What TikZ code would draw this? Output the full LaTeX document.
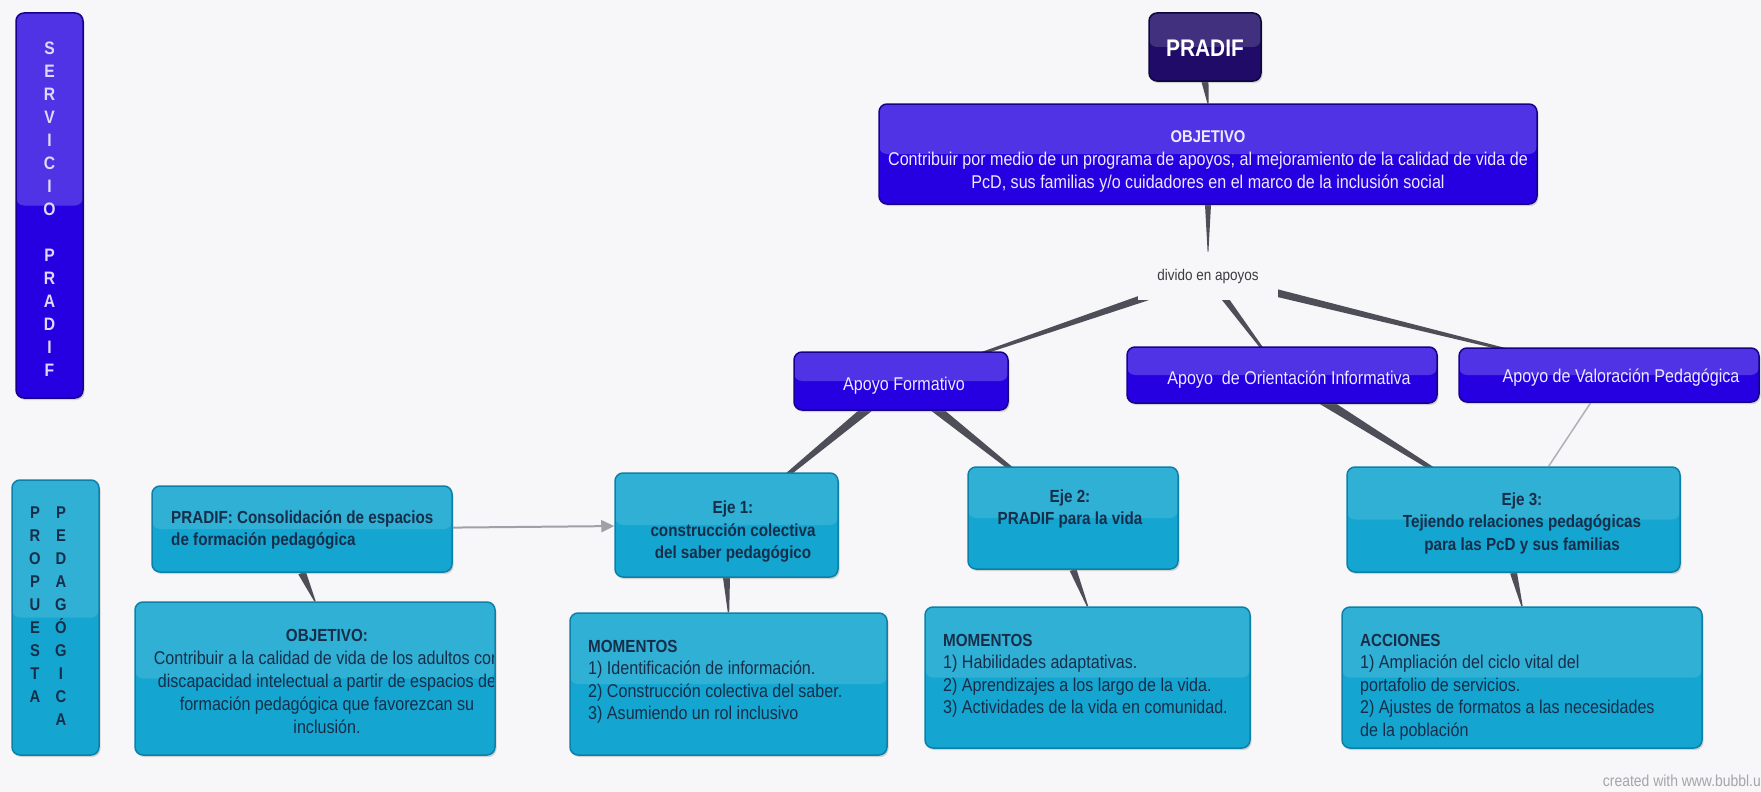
\documentclass[tikz,border=0pt]{standalone}
\usepackage{fontspec}
\setmainfont{Liberation Sans}[FakeStretch=0.87]
\usetikzlibrary{calc,shadows,arrows.meta,backgrounds}
\definecolor{bgc}{RGB}{247,247,249}
\definecolor{bluebase}{RGB}{38,0,224}
\definecolor{blueedge}{RGB}{24,0,140}
\definecolor{bluetext}{RGB}{236,234,255}
\definecolor{svcletter}{RGB}{222,218,255}
\definecolor{navybase}{RGB}{32,12,104}
\definecolor{navyedge}{RGB}{14,5,60}
\definecolor{cyanbase}{RGB}{20,166,208}
\definecolor{cyanedge}{RGB}{12,128,168}
\definecolor{cyantext}{RGB}{22,46,74}
\definecolor{connc}{RGB}{78,78,88}
\definecolor{thinc}{RGB}{176,176,182}
\definecolor{arrc}{RGB}{160,160,168}
\definecolor{creditc}{RGB}{165,165,170}
\definecolor{dividoc}{RGB}{60,60,64}
\newcommand\tconn[4]{%
  \fill[conn] ($(#1)!#3!90:(#2)$) -- ($(#1)!#3!-90:(#2)$) --
    ($(#2)!#4!90:(#1)$) -- ($(#2)!#4!-90:(#1)$) -- cycle;}
\tikzset{
  box/.style={rounded corners=8pt, line width=1.5pt, inner sep=0pt,
    drop shadow={shadow xshift=1.5pt, shadow yshift=-2pt, opacity=0.3}},
  gloss/.style={path picture={\fill[white,opacity=#1] (path picture bounding box.north west)
      rectangle (path picture bounding box.east);}},
  bluebox/.style={box, fill=bluebase, draw=blueedge, gloss=0.2},
  navybox/.style={box, fill=navybase, draw=navyedge, gloss=0.15},
  cyanbox/.style={box, fill=cyanbase, draw=cyanedge, gloss=0.12},
  wt/.style={inner sep=0pt, align=center, text=bluetext, font=\fontsize{18.5pt}{23pt}\selectfont},
  ct/.style={inner sep=0pt, text=cyantext, font=\fontsize{18.5pt}{22.5pt}\selectfont},
  cth/.style={inner sep=0pt, align=center, text=cyantext, font=\bfseries\fontsize{17.5pt}{22.5pt}\selectfont},
  conn/.style={fill=connc},
  thinconn/.style={draw=thinc, line width=1.5pt},
  arrowconn/.style={draw=arrc, line width=2pt, -{Triangle[length=13pt,width=12pt]}},
  letters/.style={inner sep=0pt, align=center, font=\bfseries\fontsize{18pt}{23pt}\selectfont},
}
\begin{document}
\begin{tikzpicture}[x=1pt,y=-1pt]
\useasboundingbox (0,0) rectangle (1761,792);

% side bars
\node[bluebox, minimum width=67pt, minimum height=385pt] (svc) at (49.5,205.5) {};
\node[letters, text=svcletter] (svct) at (49.5,209)
  {S\\E\\R\\V\\I\\C\\I\\O\\[23pt]P\\R\\A\\D\\I\\F};
\node[cyanbox, minimum width=87pt, minimum height=275pt] (prop) at (55.5,617.5) {};
\node[letters, text=cyantext, font=\bfseries\fontsize{17pt}{23pt}\selectfont] (propl) at (35,605)
  {P\\R\\O\\P\\U\\E\\S\\T\\A};
\node[letters, text=cyantext, font=\bfseries\fontsize{17pt}{23pt}\selectfont] (propr) at (61,616.5)
  {P\\E\\D\\A\\G\\Ó\\G\\I\\C\\A};

% top
\node[navybox, minimum width=112pt, minimum height=68pt] (pradif) at (1205,47) {};
\node[inner sep=0pt, text=white, font=\bfseries\fontsize{24pt}{28pt}\selectfont] (pradift) at (1205,48) {PRADIF};
\node[bluebox, minimum width=658pt, minimum height=100pt] (objt) at (1208,154) {};
\node[wt] (objtt) at (1208,161)
  {{\bfseries\fontsize{17pt}{23pt}\selectfont OBJETIVO}\\
   Contribuir por medio de un programa de apoyos, al mejoramiento de la calidad de vida de\\
   PcD, sus familias y/o cuidadores en el marco de la inclusión social};
\node[fill=bgc, minimum width=140pt, minimum height=48pt, inner sep=0pt, text=dividoc,
  font=\fontsize{15.5pt}{18pt}\selectfont] (divido) at (1208,276) {divido en apoyos};

% apoyos
\node[bluebox, minimum width=214pt, minimum height=58pt] (apf) at (901,381) {};
\node[wt] (apft) at (904,386) {Apoyo Formativo};
\node[bluebox, minimum width=310pt, minimum height=56pt] (apo) at (1282,375) {};
\node[wt] (apot) at (1289,380) {Apoyo\ \ de Orientación Informativa};
\node[bluebox, minimum width=300pt, minimum height=54pt] (apv) at (1609,375) {};
\node[wt] (apvt) at (1621,378) {Apoyo de Valoración Pedagógica};

% second row
\node[cyanbox, minimum width=300pt, minimum height=86pt] (cons) at (302,529) {};
\node[cth, align=left, anchor=west] (const) at (171,530)
  {PRADIF: Consolidación de espacios\\de formación pedagógica};
\node[cyanbox, minimum width=223pt, minimum height=104pt] (eje1) at (726.5,525) {};
\node[cth] (eje1t) at (733,532) {Eje 1:\\construcción colectiva\\del saber pedagógico};
\node[cyanbox, minimum width=210pt, minimum height=102pt] (eje2) at (1073,518) {};
\node[cth] (eje2t) at (1070,509) {Eje 2:\\PRADIF para la vida};
\node[cyanbox, minimum width=333pt, minimum height=105pt] (eje3) at (1513.5,519.5) {};
\node[cth] (eje3t) at (1522,523) {Eje 3:\\Tejiendo relaciones pedagógicas\\para las PcD y sus familias};

% third row
\node[cyanbox, minimum width=360pt, minimum height=153pt] (objp) at (315,678.5) {};
\begin{scope}
  \clip ([xshift=2pt,yshift=-2pt]objp.north west) rectangle ([xshift=-2pt,yshift=2pt]objp.south east);
  \node[ct, align=center, font=\fontsize{18.5pt}{23pt}\selectfont] (objpt) at (327,681)
    {{\bfseries\fontsize{17.5pt}{23pt}\selectfont OBJETIVO:}\\
     Contribuir a la calidad de vida de los adultos con\\
     discapacidad intelectual a partir de espacios de\\
     formación pedagógica que favorezcan su\\
     inclusión.};
\end{scope}
\node[cyanbox, minimum width=317pt, minimum height=142pt] (mom1) at (728.5,684) {};
\node[ct, align=left, anchor=west] (mom1t) at (588,682)
  {{\bfseries\fontsize{17.5pt}{22.5pt}\selectfont MOMENTOS}\\
   1) Identificación de información.\\
   2) Construcción colectiva del saber.\\
   3) Asumiendo un rol inclusivo};
\node[cyanbox, minimum width=325pt, minimum height=141pt] (mom2) at (1087.5,677.5) {};
\node[ct, align=left, anchor=west] (mom2t) at (943,676)
  {{\bfseries\fontsize{17.5pt}{22.5pt}\selectfont MOMENTOS}\\
   1) Habilidades adaptativas.\\
   2) Aprendizajes a los largo de la vida.\\
   3) Actividades de la vida en comunidad.};
\node[cyanbox, minimum width=360pt, minimum height=141pt] (acc) at (1522,677.5) {};
\node[ct, align=left, anchor=west] (acct) at (1360,687)
  {{\bfseries\fontsize{17.5pt}{22.5pt}\selectfont ACCIONES}\\
   1) Ampliación del ciclo vital del\\
   portafolio de servicios.\\
   2) Ajustes de formatos a las necesidades\\
   de la población};

\node[anchor=east, inner sep=0pt, text=creditc, font=\fontsize{16pt}{18pt}\selectfont] (credit) at (1761,781)
  {created with www.bubbl.u};

% arrow
\draw[arrowconn] (cons) -- (eje1);

\begin{pgfonlayer}{background}
  \fill[bgc] (0,0) rectangle (1761,792);
  \tconn{pradif.south}{objt.north}{3.5pt}{0.6pt}
  \tconn{objt.south}{divido.north}{3pt}{0.4pt}
  \tconn{divido}{apf}{4.5pt}{0.3pt}
  \tconn{divido}{apo}{4pt}{0.3pt}
  \tconn{divido}{apv}{4.5pt}{0.3pt}
  \tconn{apf}{eje1}{5.5pt}{0.3pt}
  \tconn{apf}{eje2}{5.5pt}{0.3pt}
  \tconn{apo}{eje3}{5.5pt}{0.3pt}
  \draw[thinconn] (apv) -- (eje3);
  \tconn{cons.south}{objp.north}{4pt}{0.7pt}
  \tconn{eje1.south}{mom1.north}{3.5pt}{0.7pt}
  \tconn{eje2.south}{mom2.north}{3.5pt}{0.7pt}
  \tconn{eje3.south}{acc.north}{3.5pt}{0.7pt}
\end{pgfonlayer}
\end{tikzpicture}
\end{document}
